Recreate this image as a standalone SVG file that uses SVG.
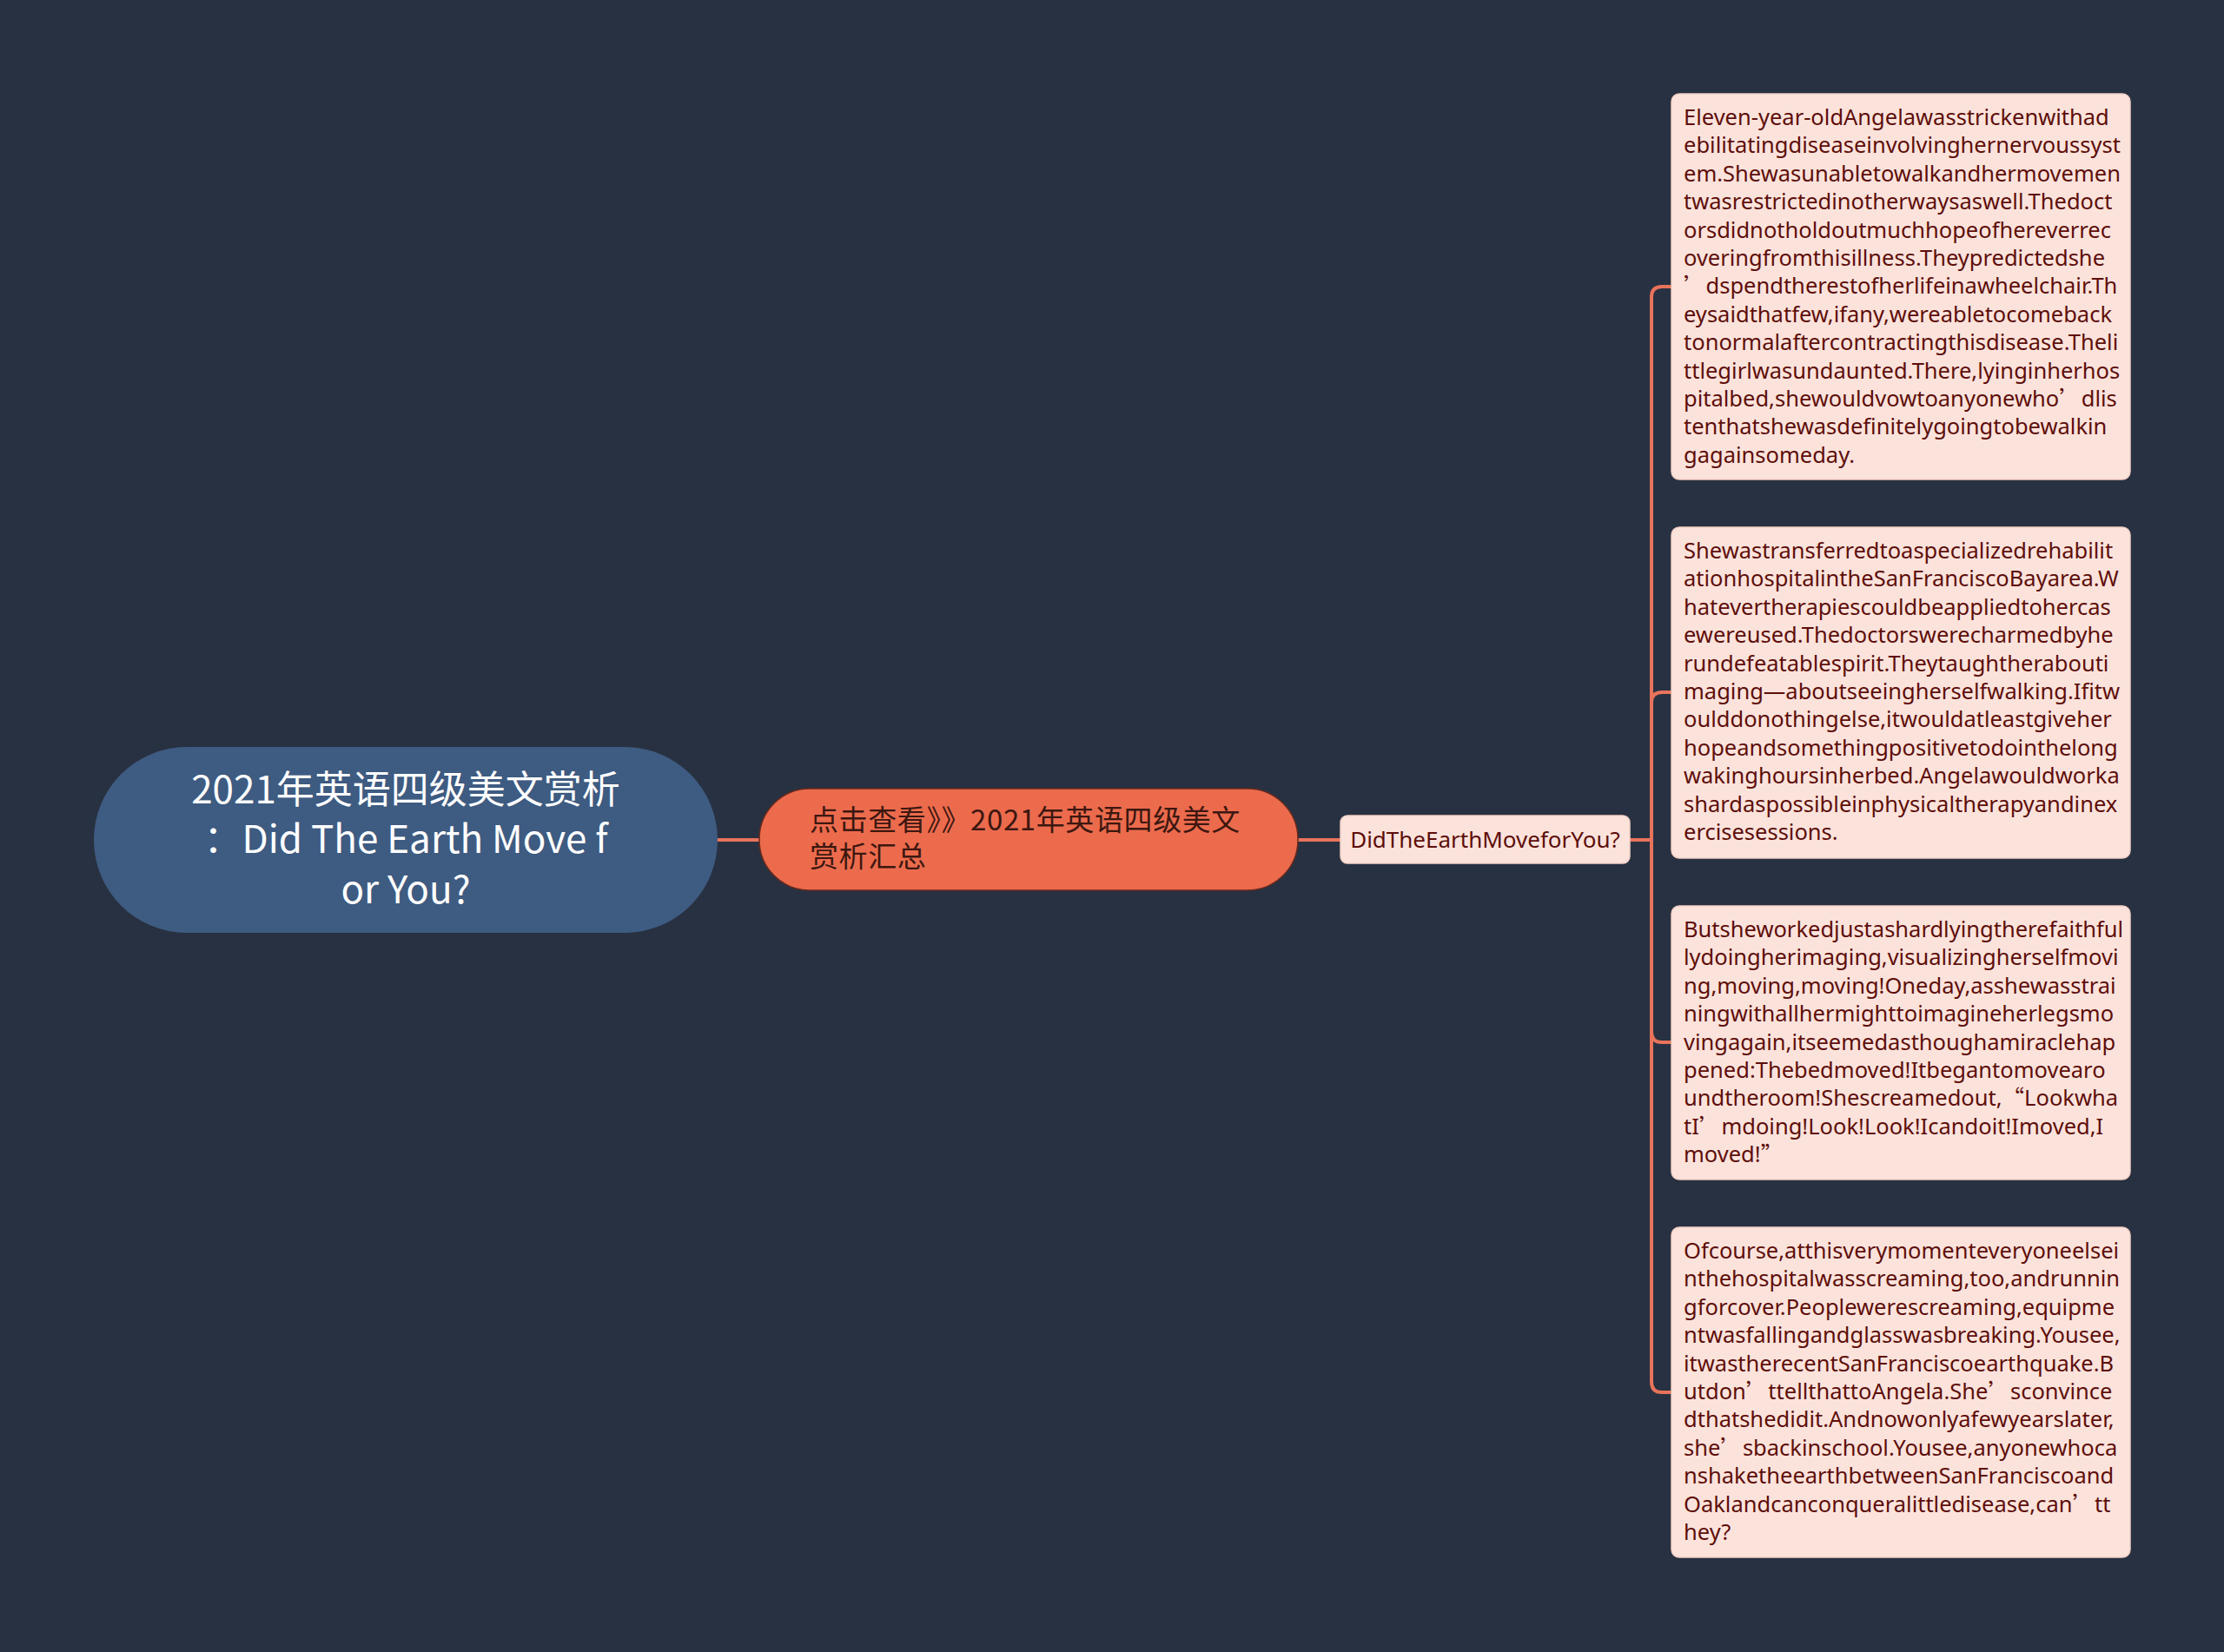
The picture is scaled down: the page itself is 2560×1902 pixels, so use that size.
<svg xmlns="http://www.w3.org/2000/svg" width="2560" height="1902" viewBox="0 0 2560 1902">
<style>
.bg{fill:#283141}
.conn{fill:none;stroke:#e8735b;stroke-width:4;stroke-linecap:round}
.root{fill:#3e5b81}
.rootT{font-family:"Noto Sans CJK SC","Noto Sans",sans-serif;font-size:44px;fill:#ffffff;text-anchor:middle}
.sub{fill:#ec6b4d;stroke:#6b2a1e;stroke-width:1.5}
.subT{font-family:"Noto Sans CJK SC","Noto Sans",sans-serif;font-size:33px;letter-spacing:0.6px;fill:#3d1710}
.leaf{fill:#fbe3dc;stroke:#f3cfc4;stroke-width:1.5}
.leafT{font-family:"Noto Sans","Noto Sans CJK SC",sans-serif;font-size:25.5px;fill:#5e0e0a}
.q{font-family:"Noto Sans CJK SC",sans-serif}
.midT{font-family:"Noto Sans","Noto Sans CJK SC",sans-serif;font-size:26px;fill:#5e0e0a;text-anchor:middle}
</style>
<rect class="bg" x="0" y="0" width="2560" height="1902"/>
<g id="connectors">
<path class="conn" d="M826,967 H874"/>
<path class="conn" d="M1494,967 H1543"/>
<path class="conn" d="M1876,967 H1901 V342 Q1901,330 1913,330 H1924"/>
<path class="conn" d="M1901,967 V809 Q1901,797 1913,797 H1924"/>
<path class="conn" d="M1901,967 V1188 Q1901,1200 1913,1200 H1924"/>
<path class="conn" d="M1901,967 V1591 Q1901,1603 1913,1603 H1924"/>
</g>
<g id="root">
<rect class="root" x="108" y="860" width="718" height="214" rx="107"/>
<text class="rootT" x="467"><tspan x="467" y="925">2021年英语四级美文赏析</tspan><tspan x="467" y="982">：Did The Earth Move f</tspan><tspan x="467" y="1040">or You?</tspan></text>
</g>
<g id="summary">
<rect class="sub" x="874" y="908" width="620" height="117" rx="58"/>
<text class="subT"><tspan x="932" y="956">点击查看》》2021年英语四级美文</tspan><tspan x="932" y="998">赏析汇总</tspan></text>
</g>
<g id="title">
<rect class="leaf" x="1543" y="939" width="333" height="55" rx="8"/>
<text class="midT" x="1709.500" y="976">DidTheEarthMoveforYou?</text>
</g>
<g id="para1">
<rect class="leaf" x="1924" y="108" width="528" height="444" rx="9"/>
<text class="leafT">
<tspan x="1938" y="144">Eleven-year-oldAngelawasstrickenwithad</tspan>
<tspan x="1938" y="176.4">ebilitatingdiseaseinvolvinghernervoussyst</tspan>
<tspan x="1938" y="208.8">em.Shewasunabletowalkandhermovemen</tspan>
<tspan x="1938" y="241.2">twasrestrictedinotherwaysaswell.Thedoct</tspan>
<tspan x="1938" y="273.6">orsdidnotholdoutmuchhopeofhereverrec</tspan>
<tspan x="1938" y="306">overingfromthisillness.Theypredictedshe</tspan>
<tspan x="1938" y="338.4"><tspan class="q">’</tspan>dspendtherestofherlifeinawheelchair.Th</tspan>
<tspan x="1938" y="370.8">eysaidthatfew,ifany,wereabletocomeback</tspan>
<tspan x="1938" y="403.2">tonormalaftercontractingthisdisease.Theli</tspan>
<tspan x="1938" y="435.6">ttlegirlwasundaunted.There,lyinginherhos</tspan>
<tspan x="1938" y="468">pitalbed,shewouldvowtoanyonewho<tspan class="q">’</tspan>dlis</tspan>
<tspan x="1938" y="500.4">tenthatshewasdefinitelygoingtobewalkin</tspan>
<tspan x="1938" y="532.8">gagainsomeday.</tspan>
</text>
</g>
<g id="para2">
<rect class="leaf" x="1924" y="607" width="528" height="381" rx="9"/>
<text class="leafT">
<tspan x="1938" y="643">Shewastransferredtoaspecializedrehabilit</tspan>
<tspan x="1938" y="675.4">ationhospitalintheSanFranciscoBayarea.W</tspan>
<tspan x="1938" y="707.8">hatevertherapiescouldbeappliedtohercas</tspan>
<tspan x="1938" y="740.2">ewereused.Thedoctorswerecharmedbyhe</tspan>
<tspan x="1938" y="772.6">rundefeatablespirit.Theytaughtherabouti</tspan>
<tspan x="1938" y="805">maging—aboutseeingherselfwalking.Ifitw</tspan>
<tspan x="1938" y="837.4">oulddonothingelse,itwouldatleastgiveher</tspan>
<tspan x="1938" y="869.8">hopeandsomethingpositivetodointhelong</tspan>
<tspan x="1938" y="902.2">wakinghoursinherbed.Angelawouldworka</tspan>
<tspan x="1938" y="934.6">shardaspossibleinphysicaltherapyandinex</tspan>
<tspan x="1938" y="967">ercisesessions.</tspan>
</text>
</g>
<g id="para3">
<rect class="leaf" x="1924" y="1043" width="528" height="315" rx="9"/>
<text class="leafT">
<tspan x="1938" y="1079">Butsheworkedjustashardlyingtherefaithful</tspan>
<tspan x="1938" y="1111.4">lydoingherimaging,visualizingherselfmovi</tspan>
<tspan x="1938" y="1143.8">ng,moving,moving!Oneday,asshewasstrai</tspan>
<tspan x="1938" y="1176.2">ningwithallhermighttoimagineherlegsmo</tspan>
<tspan x="1938" y="1208.6">vingagain,itseemedasthoughamiraclehap</tspan>
<tspan x="1938" y="1241">pened:Thebedmoved!Itbegantomovearo</tspan>
<tspan x="1938" y="1273.4">undtheroom!Shescreamedout,<tspan class="q">“</tspan>Lookwha</tspan>
<tspan x="1938" y="1305.8">tI<tspan class="q">’</tspan>mdoing!Look!Look!Icandoit!Imoved,I</tspan>
<tspan x="1938" y="1338.2">moved!<tspan class="q">”</tspan></tspan>
</text>
</g>
<g id="para4">
<rect class="leaf" x="1924" y="1413" width="528" height="380" rx="9"/>
<text class="leafT">
<tspan x="1938" y="1449">Ofcourse,atthisverymomenteveryoneelsei</tspan>
<tspan x="1938" y="1481.4">nthehospitalwasscreaming,too,andrunnin</tspan>
<tspan x="1938" y="1513.8">gforcover.Peoplewerescreaming,equipme</tspan>
<tspan x="1938" y="1546.2">ntwasfallingandglasswasbreaking.Yousee,</tspan>
<tspan x="1938" y="1578.6">itwastherecentSanFranciscoearthquake.B</tspan>
<tspan x="1938" y="1611">utdon<tspan class="q">’</tspan>ttellthattoAngela.She<tspan class="q">’</tspan>sconvince</tspan>
<tspan x="1938" y="1643.4">dthatshedidit.Andnowonlyafewyearslater,</tspan>
<tspan x="1938" y="1675.8">she<tspan class="q">’</tspan>sbackinschool.Yousee,anyonewhoca</tspan>
<tspan x="1938" y="1708.2">nshaketheearthbetweenSanFranciscoand</tspan>
<tspan x="1938" y="1740.6">Oaklandcanconqueralittledisease,can<tspan class="q">’</tspan>tt</tspan>
<tspan x="1938" y="1773">hey?</tspan>
</text>
</g>
</svg>
